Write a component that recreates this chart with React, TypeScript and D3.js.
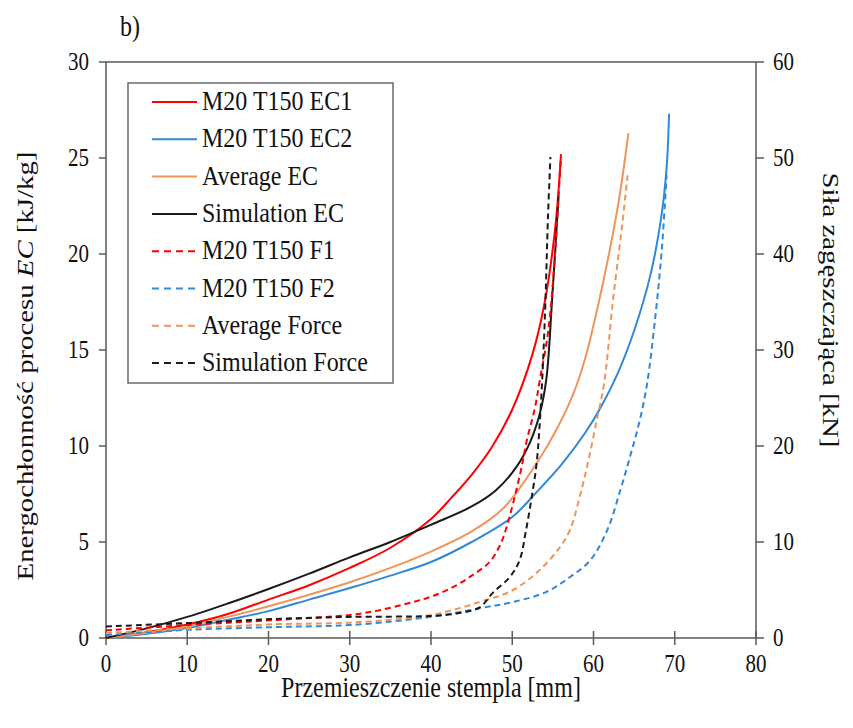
import { useEffect, useRef } from "react";
import * as d3 from "d3";

// x = displacement [mm], y = EC [kJ/kg] (left) or force [kN] (right)
const ec1 = [[0,0],[5,0.3],[10,0.7],[15,1.25],[20,2.0],[25,2.75],[30,3.65],[35,4.7],[40,6.2],[42.5,7.3],[45,8.5],[47.5,9.95],[50,11.9],[52.5,14.8],[54,17.5],[55.3,21.4],[56,25.2]];
const ec2 = [[0,0],[5,0.22],[10,0.52],[15,0.95],[20,1.4],[25,2.0],[30,2.6],[35,3.25],[40,3.96],[45,5.0],[50,6.3],[53,7.6],[56,9.0],[59,10.7],[61,12.1],[63,13.8],[65,16.0],[67,18.9],[68.3,21.8],[69,24.5],[69.3,27.3]];
const avgEc = [[0,0],[5,0.27],[10,0.6],[15,1.1],[20,1.65],[25,2.25],[30,2.9],[35,3.65],[40,4.5],[45,5.55],[49,6.8],[53,9.1],[55.5,10.9],[57.5,12.7],[59,14.6],[60.5,17.2],[62,20.2],[63.2,23],[64.3,26.3]];
const simEc = [[0,0],[5,0.5],[10,1.1],[15,1.8],[20,2.55],[25,3.35],[30,4.2],[35,5.0],[40,5.9],[45,6.85],[48,7.7],[50.5,8.9],[52.2,10.2],[53.4,11.7],[54.2,13.5],[54.9,17.6],[55.7,23]];
const f1 = [[0,0.8],[10,1.35],[21.4,1.9],[30,2.4],[33.7,2.9],[37.8,3.75],[40,4.3],[42.7,5.3],[45.2,6.6],[47.2,7.9],[48.4,9.5],[49.2,11.25],[51,17.2],[51.8,20.6],[52.8,24],[53.4,26.9],[54.4,31.8],[55.3,40.4],[55.8,47.4],[56,50.1]];
const f2 = [[0,0.3],[10,0.85],[21.4,1.15],[30,1.35],[40,2.2],[46,3.1],[50.1,3.75],[54.2,4.8],[57.1,6.35],[59.6,8.1],[61.7,11.25],[63.3,15.4],[64.5,18.9],[65.7,22.7],[66.6,26.5],[67.6,33.4],[68.4,40.4],[69,48.2]];
const avgForce = [[0,0.5],[10,1.0],[21.4,1.45],[30,1.6],[40,2.4],[46,3.75],[50.1,5],[53.4,7.1],[55.9,9.5],[57.1,11.25],[58.3,14.7],[59.3,18.2],[60.4,22.7],[61.3,26.5],[62.4,35.2],[63.5,42.8],[64.2,48.2]];
const simForce = [[0,1.2],[10,1.55],[21.4,2.0],[30,2.2],[40,2.3],[43.5,2.6],[46,3.2],[47.6,4.7],[49.7,6.35],[50.9,8.1],[51.7,11.25],[52.4,14.7],[53,18.2],[53.5,24],[54,33],[54.4,43.9],[54.7,50.1]];

const seriesNames = ["M20 T150 EC1", "M20 T150 EC2", "Average EC", "Simulation EC", "M20 T150 F1", "M20 T150 F2", "Average Force", "Simulation Force"];
const seriesData = [ec1, ec2, avgEc, simEc, f1, f2, avgForce, simForce];
const seriesColors = ["#ff0000", "#2f88d8", "#f0955a", "#1a1a1a", "#ff0000", "#2f88d8", "#f0955a", "#1a1a1a"];
const seriesAxis = ["left", "left", "left", "left", "right", "right", "right", "right"];

const xTicks = [0, 10, 20, 30, 40, 50, 60, 70, 80];
const leftTicks = [0, 5, 10, 15, 20, 25, 30];
const rightTicks = [0, 10, 20, 30, 40, 50, 60];

const FONT = "'Liberation Serif', 'Times New Roman', serif";
const SY = 1.2; // picture is stretched vertically

export default function App() {
  const svgRef = useRef(null);

  useEffect(() => {
    const svg = d3.select(svgRef.current);
    svg.selectAll("*").remove();

    const left = 106, right = 756, top = 62, bottom = 638;
    const x = d3.scaleLinear().domain([0, 80]).range([left, right]);
    const yL = d3.scaleLinear().domain([0, 30]).range([bottom, top]);
    const yR = d3.scaleLinear().domain([0, 60]).range([bottom, top]);
    const axisColor = "#5a5a5a";

    const addText = (px, py, str, size, anchor, rotate = 0) =>
      svg
        .append("text")
        .attr("transform", `translate(${px},${py}) scale(1,${SY}) rotate(${rotate})`)
        .attr("text-anchor", anchor)
        .style("font-family", FONT)
        .style("font-size", `${size}px`)
        .style("fill", "#111")
        .text(str);

    // frame
    svg.append("rect")
      .attr("x", left).attr("y", top)
      .attr("width", right - left).attr("height", bottom - top)
      .attr("fill", "none").attr("stroke", axisColor).attr("stroke-width", 1.5);

    // ticks
    xTicks.forEach((t) => {
      svg.append("line")
        .attr("x1", x(t)).attr("x2", x(t)).attr("y1", bottom - 7).attr("y2", bottom + 7)
        .attr("stroke", axisColor).attr("stroke-width", 1.5);
      addText(x(t), bottom + 34, String(t), 21, "middle");
    });
    leftTicks.forEach((t) => {
      svg.append("line")
        .attr("x1", left - 7).attr("x2", left).attr("y1", yL(t)).attr("y2", yL(t))
        .attr("stroke", axisColor).attr("stroke-width", 1.5);
      addText(left - 17, yL(t) + 8, String(t), 21, "end");
    });
    rightTicks.forEach((t) => {
      svg.append("line")
        .attr("x1", right).attr("x2", right + 8).attr("y1", yR(t)).attr("y2", yR(t))
        .attr("stroke", axisColor).attr("stroke-width", 1.5);
      addText(right + 17, yR(t) + 8, String(t), 21, "start");
    });

    // curves
    seriesData.forEach((pts, i) => {
      const yScale = seriesAxis[i] === "left" ? yL : yR;
      const line = d3.line()
        .x((d) => x(d[0]))
        .y((d) => yScale(d[1]))
        .curve(d3.curveCatmullRom.alpha(0.5));
      svg.append("path")
        .attr("d", line(pts))
        .attr("fill", "none")
        .attr("stroke", seriesColors[i])
        .attr("stroke-width", 2)
        .attr("stroke-dasharray", seriesAxis[i] === "right" ? "6,4" : null);
    });

    // legend
    const legend = svg.append("g").attr("transform", "translate(128,83)");
    legend.append("rect")
      .attr("width", 265).attr("height", 300)
      .attr("fill", "#fff").attr("stroke", "#6a6a6a").attr("stroke-width", 1.5);
    seriesNames.forEach((name, i) => {
      const cy = 19 + i * 37.3;
      legend.append("line")
        .attr("x1", 24).attr("x2", 69).attr("y1", cy).attr("y2", cy)
        .attr("stroke", seriesColors[i]).attr("stroke-width", 2)
        .attr("stroke-dasharray", seriesAxis[i] === "right" ? "7,5" : null);
      legend.append("text")
        .attr("transform", `translate(74,${cy + 8}) scale(1,1.12)`)
        .style("font-family", FONT)
        .style("font-size", "24px")
        .style("fill", "#111")
        .text(name);
    });

    // titles
    addText(120, 36, "b)", 24, "start");
    addText((left + right) / 2, 697, "Przemieszczenie stempla [mm]", 24, "middle");

    const yTitle = svg.append("text")
      .attr("transform", `translate(33,366) scale(1,${SY}) rotate(-90)`)
      .attr("text-anchor", "middle")
      .style("font-family", FONT)
      .style("font-size", "24px")
      .style("fill", "#111");
    yTitle.append("tspan").text("Energochłonność procesu ");
    yTitle.append("tspan").style("font-style", "italic").text("EC");
    yTitle.append("tspan").text(" [kJ/kg]");

    addText(823, 310, "Siła zagęszczająca [kN]", 24, "middle", 90);
  }, []);

  return (
    <svg
      ref={svgRef}
      width={853}
      height={728}
      style={{ position: "absolute", left: 0, top: 0, background: "#fff" }}
    />
  );
}
